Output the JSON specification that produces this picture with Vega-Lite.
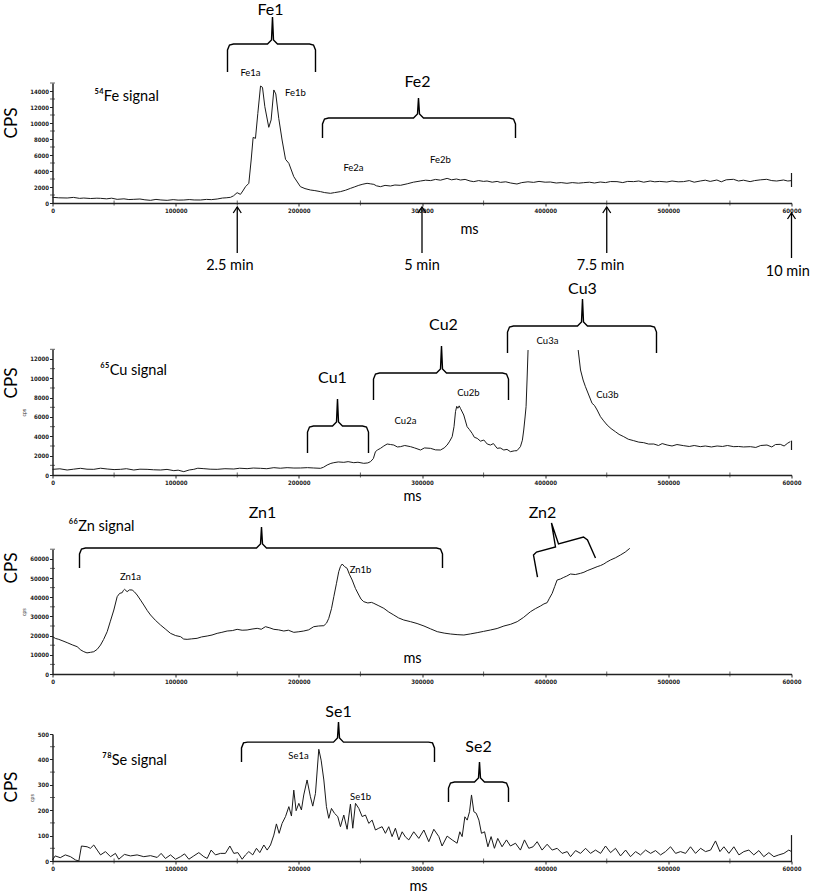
{
"$schema": "https://vega.github.io/schema/vega-lite/v6.json",
"padding": {"left": 2.5, "top": 0, "right": 0, "bottom": 0},
"spacing": 0,
"bounds": "flush",
"background": "white",
"config": {
  "view": {"stroke": null},
  "axis": {"domainColor": "#222", "domainWidth": 1.5, "tickColor": "#222", "tickSize": 3, "tickWidth": 1, "labelFont": "Liberation Sans Narrow, DejaVu Sans Condensed, sans-serif", "labelFontSize": 6, "labelFontWeight": "bold", "labelColor": "#222", "grid": false, "labelPadding": 1, "titleFont": "Liberation Sans Narrow, sans-serif", "titleFontSize": 5, "titleFontWeight": "normal", "titleColor": "#333", "titlePadding": 3, "labelFlush": false, "labelOverlap": false, "labelBound": false, "tickCount": 60},
  "tick": {"color": "#222", "thickness": 1, "size": 5}
},
"datasets": {
"fe": [
{"ms":0,"cps":710},{"ms":5000,"cps":650},{"ms":11900,"cps":625},{"ms":17000,"cps":700},{"ms":22000,"cps":580},{"ms":25400,"cps":620},{"ms":31000,"cps":560},{"ms":36000,"cps":600},{"ms":39000,"cps":583},{"ms":44000,"cps":520},{"ms":48000,"cps":600},{"ms":52500,"cps":458},{"ms":58000,"cps":520},{"ms":62000,"cps":430},{"ms":66000,"cps":458},{"ms":71000,"cps":500},{"ms":75000,"cps":400},{"ms":79600,"cps":333},{"ms":84000,"cps":450},{"ms":88000,"cps":380},{"ms":93100,"cps":333},{"ms":98000,"cps":420},{"ms":102000,"cps":360},{"ms":106600,"cps":375},{"ms":111000,"cps":430},{"ms":115000,"cps":380},{"ms":120100,"cps":375},{"ms":125000,"cps":450},{"ms":129000,"cps":420},{"ms":133700,"cps":500},{"ms":138000,"cps":620},{"ms":141000,"cps":650},{"ms":144500,"cps":708},{"ms":147000,"cps":900},{"ms":149900,"cps":1290},{"ms":152600,"cps":1080},{"ms":154500,"cps":1500},{"ms":156700,"cps":2040},{"ms":159400,"cps":2460},{"ms":161300,"cps":5375},{"ms":162900,"cps":8200},{"ms":164800,"cps":8080},{"ms":166700,"cps":11200},{"ms":168900,"cps":14620},{"ms":170500,"cps":14460},{"ms":172400,"cps":12040},{"ms":175600,"cps":9460},{"ms":177500,"cps":10380},{"ms":179700,"cps":14130},{"ms":181300,"cps":13630},{"ms":183700,"cps":10580},{"ms":186400,"cps":7875},{"ms":189200,"cps":5460},{"ms":191900,"cps":4960},{"ms":195900,"cps":3290},{"ms":201300,"cps":2040},{"ms":205000,"cps":1800},{"ms":209400,"cps":1625},{"ms":213000,"cps":1550},{"ms":217600,"cps":1420},{"ms":221000,"cps":1300},{"ms":225700,"cps":1210},{"ms":229000,"cps":1300},{"ms":233800,"cps":1420},{"ms":238000,"cps":1600},{"ms":241900,"cps":1830},{"ms":245000,"cps":2000},{"ms":248700,"cps":2210},{"ms":252000,"cps":2350},{"ms":255400,"cps":2460},{"ms":258000,"cps":2400},{"ms":260900,"cps":2330},{"ms":263000,"cps":2150},{"ms":266300,"cps":2040},{"ms":270000,"cps":2200},{"ms":274400,"cps":2125},{"ms":278000,"cps":2250},
{"ms":282500,"cps":2210},{"ms":288000,"cps":2400},{"ms":293000,"cps":2600},{"ms":298800,"cps":2750},{"ms":303000,"cps":2850},{"ms":307000,"cps":2800},{"ms":311000,"cps":2950},{"ms":315000,"cps":2850},{"ms":320400,"cps":3080},{"ms":324000,"cps":2900},{"ms":328000,"cps":3000},{"ms":331200,"cps":2875},{"ms":335000,"cps":2950},{"ms":339000,"cps":2750},{"ms":342000,"cps":2670},{"ms":346000,"cps":2800},{"ms":350000,"cps":2700},{"ms":352800,"cps":2750},{"ms":357000,"cps":2600},{"ms":361000,"cps":2700},{"ms":363600,"cps":2580},{"ms":368000,"cps":2650},{"ms":372000,"cps":2500},{"ms":377100,"cps":2375},{"ms":381000,"cps":2550},{"ms":386000,"cps":2650},{"ms":390600,"cps":2580},{"ms":395000,"cps":2700},{"ms":400000,"cps":2600},{"ms":404200,"cps":2625},{"ms":409000,"cps":2500},{"ms":413000,"cps":2550},{"ms":417700,"cps":2460},{"ms":422000,"cps":2550},{"ms":427000,"cps":2480},{"ms":431200,"cps":2540},{"ms":436000,"cps":2600},{"ms":440000,"cps":2500},{"ms":444700,"cps":2625},{"ms":449000,"cps":2550},{"ms":453000,"cps":2680},{"ms":458300,"cps":2670},{"ms":463000,"cps":2550},{"ms":467000,"cps":2700},{"ms":471800,"cps":2670},{"ms":476000,"cps":2750},{"ms":480000,"cps":2600},{"ms":485300,"cps":2750},{"ms":489000,"cps":2650},{"ms":493000,"cps":2700},{"ms":498800,"cps":2625},{"ms":503000,"cps":2750},{"ms":508000,"cps":2650},{"ms":512300,"cps":2670},{"ms":517000,"cps":2800},{"ms":521000,"cps":2600},{"ms":525900,"cps":2750},{"ms":530000,"cps":2850},{"ms":534000,"cps":2700},{"ms":539400,"cps":2875},{"ms":543000,"cps":2650},{"ms":547000,"cps":2900},{"ms":552900,"cps":2960},{"ms":557000,"cps":2750},{"ms":561000,"cps":2850},{"ms":566400,"cps":2670},{"ms":570000,"cps":2800},{"ms":575000,"cps":2900},{"ms":579900,"cps":2960},{"ms":584000,"cps":2800},{"ms":588000,"cps":2750},{"ms":593500,"cps":2875},{"ms":597000,"cps":2750},{"ms":600000,"cps":2800}
],
"cu": [
{"seg":1,"ms":0,"cps":586},{"seg":1,"ms":6000,"cps":640},{"seg":1,"ms":11900,"cps":517},{"seg":1,"ms":17000,"cps":600},{"seg":1,"ms":22700,"cps":690},{"seg":1,"ms":28000,"cps":600},{"seg":1,"ms":33500,"cps":586},{"seg":1,"ms":39000,"cps":700},{"seg":1,"ms":44400,"cps":620},{"seg":1,"ms":50000,"cps":560},{"seg":1,"ms":55200,"cps":586},{"seg":1,"ms":60000,"cps":650},{"seg":1,"ms":66000,"cps":517},{"seg":1,"ms":71000,"cps":600},{"seg":1,"ms":76800,"cps":586},{"seg":1,"ms":82000,"cps":540},{"seg":1,"ms":87700,"cps":517},{"seg":1,"ms":93000,"cps":580},{"seg":1,"ms":98500,"cps":448},{"seg":1,"ms":102000,"cps":500},{"seg":1,"ms":106600,"cps":345},{"seg":1,"ms":111000,"cps":520},{"seg":1,"ms":114700,"cps":586},{"seg":1,"ms":118000,"cps":700},{"seg":1,"ms":122900,"cps":655},{"seg":1,"ms":128000,"cps":600},{"seg":1,"ms":133700,"cps":586},{"seg":1,"ms":140000,"cps":650},{"seg":1,"ms":147200,"cps":620},{"seg":1,"ms":152000,"cps":700},{"seg":1,"ms":158000,"cps":655},{"seg":1,"ms":163000,"cps":720},{"seg":1,"ms":168900,"cps":690},{"seg":1,"ms":174000,"cps":650},{"seg":1,"ms":179700,"cps":758},{"seg":1,"ms":185000,"cps":700},{"seg":1,"ms":190500,"cps":758},{"seg":1,"ms":196000,"cps":720},{"seg":1,"ms":201300,"cps":724},{"seg":1,"ms":207000,"cps":760},{"seg":1,"ms":212100,"cps":724},{"seg":1,"ms":217600,"cps":690},{"seg":1,"ms":220000,"cps":800},{"seg":1,"ms":223000,"cps":1034},{"seg":1,"ms":226000,"cps":1200},{"seg":1,"ms":228400,"cps":1275},{"seg":1,"ms":232000,"cps":1350},{"seg":1,"ms":236500,"cps":1310},{"seg":1,"ms":240000,"cps":1380},{"seg":1,"ms":244600,"cps":1275},{"seg":1,"ms":248000,"cps":1320},{"seg":1,"ms":252700,"cps":1206},{"seg":1,"ms":256000,"cps":1250},{"seg":1,"ms":258200,"cps":1380},{"seg":1,"ms":260500,"cps":1700},{"seg":1,"ms":262200,"cps":2413},{"seg":1,"ms":264000,"cps":2600},{"seg":1,"ms":266300,"cps":2758},{"seg":1,"ms":269000,"cps":3000},{"seg":1,"ms":271700,"cps":3206},{"seg":1,"ms":274500,"cps":3150},{"seg":1,"ms":277100,"cps":3100},{"seg":1,"ms":280000,"cps":2900},{"seg":1,"ms":282500,"cps":2930},{"seg":1,"ms":286000,"cps":3050},{"seg":1,"ms":290700,"cps":2930},{"seg":1,"ms":294000,"cps":2800},{"seg":1,"ms":298800,"cps":2585},{"seg":1,"ms":302000,"cps":2800},{"seg":1,"ms":306900,"cps":2758},{"seg":1,"ms":311000,"cps":2600},{"seg":1,"ms":315000,"cps":2585},{"seg":1,"ms":318000,"cps":2800},{"seg":1,"ms":320400,"cps":3100},{"seg":1,"ms":322500,"cps":3500},{"seg":1,"ms":324500,"cps":3964},{"seg":1,"ms":326000,"cps":5000},{"seg":1,"ms":327200,"cps":6550},{"seg":1,"ms":328200,"cps":7100},{"seg":1,"ms":329100,"cps":6900},{"seg":1,"ms":330200,"cps":7150},{"seg":1,"ms":331200,"cps":6894},{"seg":1,"ms":333900,"cps":6205},{"seg":1,"ms":336600,"cps":4998},{"seg":1,"ms":338500,"cps":4700},{"seg":1,"ms":340700,"cps":4309},{"seg":1,"ms":342500,"cps":3900},{"seg":1,"ms":344800,"cps":3792},{"seg":1,"ms":347500,"cps":3500},{"seg":1,"ms":350200,"cps":3619},{"seg":1,"ms":353000,"cps":3200},{"seg":1,"ms":355600,"cps":3100},{"seg":1,"ms":358000,"cps":3250},{"seg":1,"ms":361000,"cps":2758},{"seg":1,"ms":363500,"cps":2800},{"seg":1,"ms":366400,"cps":2585},{"seg":1,"ms":369000,"cps":2650},{"seg":1,"ms":371800,"cps":2413},{"seg":1,"ms":375000,"cps":2500},{"seg":1,"ms":377100,"cps":2516},{"seg":1,"ms":379900,"cps":2930},{"seg":1,"ms":381500,"cps":3600},{"seg":1,"ms":382600,"cps":4653},{"seg":1,"ms":383700,"cps":6000},{"seg":1,"ms":384500,"cps":7066},{"seg":1,"ms":385300,"cps":9824},{"seg":1,"ms":386100,"cps":12926},
{"seg":2,"ms":426800,"cps":12926},{"seg":2,"ms":428700,"cps":10858},{"seg":2,"ms":430800,"cps":9824},{"seg":2,"ms":432700,"cps":9135},{"seg":2,"ms":435400,"cps":8273},{"seg":2,"ms":438100,"cps":7411},{"seg":2,"ms":440000,"cps":7200},{"seg":2,"ms":442200,"cps":6722},{"seg":2,"ms":444900,"cps":6032},{"seg":2,"ms":447500,"cps":5600},{"seg":2,"ms":450300,"cps":5170},{"seg":2,"ms":453500,"cps":4800},{"seg":2,"ms":457000,"cps":4481},{"seg":2,"ms":460000,"cps":4200},{"seg":2,"ms":463800,"cps":3964},{"seg":2,"ms":467500,"cps":3700},{"seg":2,"ms":471900,"cps":3550},{"seg":2,"ms":476000,"cps":3400},{"seg":2,"ms":480000,"cps":3344},{"seg":2,"ms":484000,"cps":3200},{"seg":2,"ms":488200,"cps":3206},{"seg":2,"ms":492000,"cps":3050},{"seg":2,"ms":495000,"cps":3250},{"seg":2,"ms":499000,"cps":3102},{"seg":2,"ms":503000,"cps":3000},{"seg":2,"ms":507000,"cps":3150},{"seg":2,"ms":512500,"cps":3033},{"seg":2,"ms":517000,"cps":2950},{"seg":2,"ms":521000,"cps":3050},{"seg":2,"ms":526000,"cps":2930},{"seg":2,"ms":530000,"cps":3000},{"seg":2,"ms":535000,"cps":2900},{"seg":2,"ms":539600,"cps":3000},{"seg":2,"ms":544000,"cps":2950},{"seg":2,"ms":548000,"cps":3050},{"seg":2,"ms":553100,"cps":2930},{"seg":2,"ms":557000,"cps":2950},{"seg":2,"ms":561000,"cps":2900},{"seg":2,"ms":566600,"cps":2930},{"seg":2,"ms":571000,"cps":2850},{"seg":2,"ms":575000,"cps":3050},{"seg":2,"ms":580100,"cps":3100},{"seg":2,"ms":584000,"cps":2900},{"seg":2,"ms":587000,"cps":3150},{"seg":2,"ms":590900,"cps":3171},{"seg":2,"ms":594000,"cps":3000},{"seg":2,"ms":597000,"cps":3300},{"seg":2,"ms":599000,"cps":3447}
],
"zn": [
{"ms":0,"cps":19440},{"ms":2500,"cps":18500},{"ms":5100,"cps":18050},{"ms":8500,"cps":17200},{"ms":11900,"cps":16320},{"ms":16000,"cps":15200},{"ms":20000,"cps":14240},{"ms":23000,"cps":12500},{"ms":25400,"cps":11630},{"ms":28000,"cps":11000},{"ms":30800,"cps":11280},{"ms":33500,"cps":11600},{"ms":36300,"cps":12850},{"ms":39000,"cps":15100},{"ms":41500,"cps":18000},{"ms":44400,"cps":22050},{"ms":47000,"cps":27500},{"ms":49800,"cps":33330},{"ms":52500,"cps":40270},{"ms":54500,"cps":42000},{"ms":56600,"cps":42360},{"ms":57500,"cps":43500},{"ms":58500,"cps":44100},{"ms":60600,"cps":42880},{"ms":62500,"cps":43800},{"ms":64700,"cps":43750},{"ms":66500,"cps":42800},{"ms":68700,"cps":41140},{"ms":71500,"cps":38500},{"ms":74100,"cps":35940},{"ms":77000,"cps":33000},{"ms":79600,"cps":30730},{"ms":83500,"cps":28000},{"ms":87700,"cps":25520},{"ms":91500,"cps":23500},{"ms":95800,"cps":21180},{"ms":100000,"cps":20000},{"ms":104000,"cps":19440},{"ms":106500,"cps":18200},{"ms":109300,"cps":18050},{"ms":113000,"cps":18300},{"ms":117400,"cps":18580},{"ms":121000,"cps":19300},{"ms":125600,"cps":19790},{"ms":129500,"cps":20300},{"ms":133700,"cps":21180},{"ms":137500,"cps":21700},{"ms":141800,"cps":22390},{"ms":146000,"cps":22600},{"ms":149900,"cps":23260},{"ms":154000,"cps":22800},{"ms":158000,"cps":22920},{"ms":162000,"cps":23400},{"ms":166200,"cps":23780},{"ms":169500,"cps":23300},{"ms":172900,"cps":24650},{"ms":176500,"cps":24000},{"ms":179700,"cps":23260},{"ms":183500,"cps":23000},{"ms":187800,"cps":22390},{"ms":191500,"cps":22800},{"ms":195900,"cps":21700},{"ms":200000,"cps":22000},{"ms":204000,"cps":22390},{"ms":208000,"cps":23000},{"ms":212100,"cps":24650},{"ms":216000,"cps":25000},{"ms":220300,"cps":25170},{"ms":222500,"cps":26500},{"ms":224300,"cps":28990},{"ms":226500,"cps":34000},{"ms":228400,"cps":40270},{"ms":230500,"cps":47000},{"ms":232400,"cps":53300},{"ms":233800,"cps":56000},{"ms":235200,"cps":57290},{"ms":237000,"cps":56000},{"ms":239200,"cps":55030},{"ms":241000,"cps":52000},{"ms":243300,"cps":48950},{"ms":246000,"cps":44500},{"ms":248700,"cps":41140},{"ms":250500,"cps":39000},{"ms":252700,"cps":37670},{"ms":256000,"cps":37000},{"ms":259000,"cps":37300},{"ms":260900,"cps":36800},{"ms":265000,"cps":35500},{"ms":269000,"cps":34200},{"ms":273000,"cps":32300},{"ms":277100,"cps":30730},{"ms":281000,"cps":29200},{"ms":285200,"cps":28120},{"ms":290700,"cps":27260},{"ms":296000,"cps":26300},{"ms":301600,"cps":25000},{"ms":307000,"cps":23500},{"ms":312400,"cps":22050},{"ms":318000,"cps":21300},{"ms":323200,"cps":20830},{"ms":328500,"cps":20500},{"ms":334000,"cps":20310},{"ms":339500,"cps":20900},{"ms":344800,"cps":21530},{"ms":350000,"cps":22200},{"ms":355600,"cps":22920},{"ms":361000,"cps":23700},{"ms":366500,"cps":25000},{"ms":372000,"cps":25900},{"ms":377300,"cps":27260},{"ms":382500,"cps":29500},{"ms":388100,"cps":32460},{"ms":392000,"cps":34000},{"ms":396200,"cps":35410},{"ms":399000,"cps":36500},{"ms":401600,"cps":37150},{"ms":403500,"cps":39500},{"ms":405700,"cps":42010},{"ms":407700,"cps":45500},{"ms":409700,"cps":48950},{"ms":412500,"cps":49500},{"ms":415100,"cps":50340},{"ms":417500,"cps":51000},{"ms":420500,"cps":52080},{"ms":424500,"cps":51800},{"ms":428700,"cps":52430},{"ms":431500,"cps":53000},{"ms":434100,"cps":53820},{"ms":438000,"cps":54800},{"ms":442200,"cps":55900},{"ms":445000,"cps":56500},{"ms":447600,"cps":57290},{"ms":450000,"cps":58300},{"ms":453000,"cps":59370},{"ms":457000,"cps":60500},{"ms":461100,"cps":61970},{"ms":465000,"cps":63500},{"ms":468700,"cps":65450}
],
"se": [
{"ms":0,"cps":4},{"ms":2200,"cps":20},{"ms":6300,"cps":13},{"ms":10400,"cps":24},{"ms":14600,"cps":17},{"ms":18700,"cps":4},{"ms":21400,"cps":0},{"ms":23500,"cps":59},{"ms":28100,"cps":56},{"ms":30800,"cps":50},{"ms":33500,"cps":63},{"ms":36300,"cps":43},{"ms":39000,"cps":24},{"ms":43000,"cps":37},{"ms":47100,"cps":17},{"ms":51100,"cps":30},{"ms":53800,"cps":7},{"ms":58400,"cps":26},{"ms":63300,"cps":20},{"ms":68700,"cps":24},{"ms":74100,"cps":17},{"ms":79600,"cps":21},{"ms":85000,"cps":14},{"ms":88200,"cps":30},{"ms":91700,"cps":10},{"ms":95800,"cps":24},{"ms":99900,"cps":7},{"ms":103900,"cps":17},{"ms":107200,"cps":28},{"ms":110700,"cps":7},{"ms":114700,"cps":20},{"ms":118800,"cps":33},{"ms":122900,"cps":17},{"ms":125600,"cps":10},{"ms":128800,"cps":43},{"ms":132300,"cps":24},{"ms":136400,"cps":30},{"ms":140400,"cps":30},{"ms":144000,"cps":59},{"ms":147200,"cps":30},{"ms":150500,"cps":33},{"ms":154000,"cps":7},{"ms":156700,"cps":24},{"ms":159400,"cps":37},{"ms":162600,"cps":24},{"ms":165600,"cps":50},{"ms":168300,"cps":33},{"ms":171600,"cps":63},{"ms":174300,"cps":43},{"ms":177000,"cps":63},{"ms":179700,"cps":102},{"ms":181800,"cps":146},{"ms":184000,"cps":109},{"ms":186400,"cps":148},{"ms":189200,"cps":175},{"ms":191900,"cps":214},{"ms":194000,"cps":177},{"ms":195900,"cps":279},{"ms":197800,"cps":198},{"ms":200000,"cps":227},{"ms":202100,"cps":201},{"ms":204000,"cps":260},{"ms":206700,"cps":319},{"ms":209400,"cps":253},{"ms":211300,"cps":216},{"ms":213500,"cps":266},{"ms":216200,"cps":440},{"ms":218100,"cps":397},{"ms":220300,"cps":319},{"ms":222400,"cps":214},{"ms":224300,"cps":168},{"ms":226500,"cps":207},{"ms":228900,"cps":188},{"ms":231600,"cps":175},{"ms":233800,"cps":135},{"ms":236500,"cps":181},{"ms":239200,"cps":125},{"ms":241900,"cps":224},{"ms":243800,"cps":129},{"ms":246000,"cps":227},{"ms":248700,"cps":207},{"ms":251400,"cps":175},{"ms":254100,"cps":181},{"ms":256800,"cps":148},{"ms":259500,"cps":161},{"ms":262200,"cps":122},{"ms":264900,"cps":129},{"ms":267600,"cps":135},{"ms":270300,"cps":109},{"ms":273000,"cps":135},{"ms":275700,"cps":96},{"ms":278400,"cps":129},{"ms":281200,"cps":83},{"ms":283900,"cps":115},{"ms":286500,"cps":95},{"ms":289300,"cps":83},{"ms":293300,"cps":115},{"ms":297400,"cps":89},{"ms":301500,"cps":122},{"ms":305500,"cps":76},{"ms":309600,"cps":125},{"ms":313700,"cps":96},{"ms":316300,"cps":59},{"ms":320400,"cps":98},{"ms":324500,"cps":83},{"ms":328500,"cps":70},{"ms":330700,"cps":115},{"ms":332600,"cps":96},{"ms":334800,"cps":174},{"ms":336700,"cps":161},{"ms":338600,"cps":194},{"ms":340200,"cps":260},{"ms":342100,"cps":194},{"ms":344000,"cps":188},{"ms":346200,"cps":161},{"ms":348300,"cps":109},{"ms":350800,"cps":115},{"ms":353500,"cps":56},{"ms":356100,"cps":96},{"ms":358800,"cps":50},{"ms":361500,"cps":89},{"ms":365000,"cps":56},{"ms":368600,"cps":83},{"ms":371800,"cps":59},{"ms":375900,"cps":70},{"ms":379900,"cps":43},{"ms":383200,"cps":83},{"ms":386700,"cps":50},{"ms":390200,"cps":56},{"ms":393500,"cps":76},{"ms":397500,"cps":43},{"ms":401600,"cps":66},{"ms":405700,"cps":43},{"ms":409700,"cps":50},{"ms":413800,"cps":30},{"ms":417900,"cps":37},{"ms":420600,"cps":17},{"ms":424700,"cps":41},{"ms":428700,"cps":30},{"ms":432800,"cps":50},{"ms":436800,"cps":30},{"ms":440900,"cps":43},{"ms":445000,"cps":30},{"ms":449000,"cps":59},{"ms":453100,"cps":33},{"ms":457100,"cps":50},{"ms":461200,"cps":20},{"ms":465300,"cps":43},{"ms":469300,"cps":17},{"ms":473400,"cps":37},{"ms":477400,"cps":24},{"ms":481500,"cps":43},{"ms":485600,"cps":30},{"ms":489600,"cps":41},{"ms":493700,"cps":24},{"ms":497700,"cps":37},{"ms":501800,"cps":56},{"ms":505900,"cps":30},{"ms":509900,"cps":37},{"ms":514000,"cps":30},{"ms":518000,"cps":56},{"ms":522100,"cps":30},{"ms":526200,"cps":50},{"ms":530200,"cps":37},{"ms":534300,"cps":43},{"ms":538300,"cps":79},{"ms":541900,"cps":37},{"ms":545100,"cps":56},{"ms":549200,"cps":30},{"ms":553200,"cps":56},{"ms":557300,"cps":24},{"ms":561300,"cps":37},{"ms":565400,"cps":43},{"ms":569400,"cps":24},{"ms":573500,"cps":41},{"ms":577500,"cps":17},{"ms":581600,"cps":33},{"ms":585700,"cps":17},{"ms":589700,"cps":24},{"ms":593800,"cps":30},{"ms":597800,"cps":43},{"ms":600000,"cps":37}
],
"braces": [
{"b":"Fe1","o":1,"ms":142083,"cps":16375},{"b":"Fe1","o":2,"ms":142083,"cps":19125},{"b":"Fe1","o":3,"ms":143706,"cps":19750},{"b":"Fe1","o":4,"ms":146954,"cps":19875},{"b":"Fe1","o":5,"ms":174559,"cps":19875},{"b":"Fe1","o":6,"ms":177806,"cps":20375},{"b":"Fe1","o":7,"ms":178618,"cps":23250},{"b":"Fe1","o":8,"ms":179430,"cps":20375},{"b":"Fe1","o":9,"ms":182678,"cps":19875},{"b":"Fe1","o":10,"ms":208658,"cps":19875},{"b":"Fe1","o":11,"ms":211906,"cps":19750},{"b":"Fe1","o":12,"ms":213530,"cps":19125},{"b":"Fe1","o":13,"ms":213530,"cps":16375},
{"b":"Fe2","o":1,"ms":219213,"cps":8125},{"b":"Fe2","o":2,"ms":219213,"cps":9875},{"b":"Fe2","o":3,"ms":220837,"cps":10500},{"b":"Fe2","o":4,"ms":224084,"cps":10625},{"b":"Fe2","o":5,"ms":293096,"cps":10625},{"b":"Fe2","o":6,"ms":296344,"cps":11125},{"b":"Fe2","o":7,"ms":297155,"cps":13125},{"b":"Fe2","o":8,"ms":297967,"cps":11125},{"b":"Fe2","o":9,"ms":301215,"cps":10625},{"b":"Fe2","o":10,"ms":371038,"cps":10625},{"b":"Fe2","o":11,"ms":374286,"cps":10500},{"b":"Fe2","o":12,"ms":375910,"cps":9875},{"b":"Fe2","o":13,"ms":375910,"cps":8125},
{"b":"Cu1","o":1,"ms":207035,"cps":2275},{"b":"Cu1","o":2,"ms":207035,"cps":4446},{"b":"Cu1","o":3,"ms":208658,"cps":4963},{"b":"Cu1","o":4,"ms":211906,"cps":5067},{"b":"Cu1","o":5,"ms":227332,"cps":5067},{"b":"Cu1","o":6,"ms":230580,"cps":5480},{"b":"Cu1","o":7,"ms":231392,"cps":7858},{"b":"Cu1","o":8,"ms":232203,"cps":5480},{"b":"Cu1","o":9,"ms":235451,"cps":5067},{"b":"Cu1","o":10,"ms":251689,"cps":5067},{"b":"Cu1","o":11,"ms":254937,"cps":4963},{"b":"Cu1","o":12,"ms":256560,"cps":4446},{"b":"Cu1","o":13,"ms":256560,"cps":2275},
{"b":"Cu2","o":1,"ms":260620,"cps":7755},{"b":"Cu2","o":2,"ms":260620,"cps":9926},{"b":"Cu2","o":3,"ms":262244,"cps":10443},{"b":"Cu2","o":4,"ms":265491,"cps":10547},{"b":"Cu2","o":5,"ms":311770,"cps":10547},{"b":"Cu2","o":6,"ms":315017,"cps":10960},{"b":"Cu2","o":7,"ms":315829,"cps":13339},{"b":"Cu2","o":8,"ms":316641,"cps":10960},{"b":"Cu2","o":9,"ms":319889,"cps":10547},{"b":"Cu2","o":10,"ms":365355,"cps":10547},{"b":"Cu2","o":11,"ms":368603,"cps":10443},{"b":"Cu2","o":12,"ms":370226,"cps":9926},{"b":"Cu2","o":13,"ms":370226,"cps":7755},
{"b":"Cu3","o":1,"ms":369415,"cps":12615},{"b":"Cu3","o":2,"ms":369415,"cps":14786},{"b":"Cu3","o":3,"ms":371038,"cps":15303},{"b":"Cu3","o":4,"ms":374286,"cps":15407},{"b":"Cu3","o":5,"ms":426248,"cps":15407},{"b":"Cu3","o":6,"ms":429495,"cps":15820},{"b":"Cu3","o":7,"ms":430307,"cps":18198},{"b":"Cu3","o":8,"ms":431119,"cps":15820},{"b":"Cu3","o":9,"ms":434367,"cps":15407},{"b":"Cu3","o":10,"ms":485516,"cps":15407},{"b":"Cu3","o":11,"ms":488764,"cps":15303},{"b":"Cu3","o":12,"ms":490388,"cps":14786},{"b":"Cu3","o":13,"ms":490388,"cps":12615},
{"b":"Zn1","o":1,"ms":21921,"cps":55205},{"b":"Zn1","o":2,"ms":21921,"cps":62496},{"b":"Zn1","o":3,"ms":23545,"cps":65100},{"b":"Zn1","o":4,"ms":26793,"cps":65621},{"b":"Zn1","o":5,"ms":165628,"cps":65621},{"b":"Zn1","o":6,"ms":168875,"cps":67704},{"b":"Zn1","o":7,"ms":169687,"cps":76558},{"b":"Zn1","o":8,"ms":170499,"cps":67704},{"b":"Zn1","o":9,"ms":173747,"cps":65621},{"b":"Zn1","o":10,"ms":311770,"cps":65621},{"b":"Zn1","o":11,"ms":315017,"cps":65100},{"b":"Zn1","o":12,"ms":316641,"cps":62496},{"b":"Zn1","o":13,"ms":316641,"cps":55205},
{"b":"Zn2","o":1,"ms":393772,"cps":50518},{"b":"Zn2","o":2,"ms":390524,"cps":61975},{"b":"Zn2","o":3,"ms":392961,"cps":63538},{"b":"Zn2","o":4,"ms":408386,"cps":66142},{"b":"Zn2","o":5,"ms":405138,"cps":78641},{"b":"Zn2","o":6,"ms":410821,"cps":67704},{"b":"Zn2","o":7,"ms":431119,"cps":71350},{"b":"Zn2","o":8,"ms":434367,"cps":69787},{"b":"Zn2","o":9,"ms":440862,"cps":60413},
{"b":"Se1","o":1,"ms":153449,"cps":390},{"b":"Se1","o":2,"ms":153449,"cps":445},{"b":"Se1","o":3,"ms":155073,"cps":465},{"b":"Se1","o":4,"ms":158321,"cps":468},{"b":"Se1","o":5,"ms":228144,"cps":468},{"b":"Se1","o":6,"ms":231392,"cps":484},{"b":"Se1","o":7,"ms":232203,"cps":547},{"b":"Se1","o":8,"ms":233015,"cps":484},{"b":"Se1","o":9,"ms":236263,"cps":468},{"b":"Se1","o":10,"ms":305274,"cps":468},{"b":"Se1","o":11,"ms":308522,"cps":465},{"b":"Se1","o":12,"ms":310146,"cps":445},{"b":"Se1","o":13,"ms":310146,"cps":390},
{"b":"Se2","o":1,"ms":321512,"cps":232},{"b":"Se2","o":2,"ms":321512,"cps":287},{"b":"Se2","o":3,"ms":323136,"cps":307},{"b":"Se2","o":4,"ms":326384,"cps":311},{"b":"Se2","o":5,"ms":342622,"cps":311},{"b":"Se2","o":6,"ms":345869,"cps":327},{"b":"Se2","o":7,"ms":346681,"cps":390},{"b":"Se2","o":8,"ms":347493,"cps":327},{"b":"Se2","o":9,"ms":350741,"cps":311},{"b":"Se2","o":10,"ms":365355,"cps":311},{"b":"Se2","o":11,"ms":368603,"cps":307},{"b":"Se2","o":12,"ms":370226,"cps":287},{"b":"Se2","o":13,"ms":370226,"cps":232}
],
"notes": [
{"panel":"fe","kind":"g","label":"Fe1","ms":176994,"cps":24125},{"panel":"fe","kind":"g","label":"Fe2","ms":296344,"cps":15125},{"panel":"fe","kind":"p","label":"Fe1a","ms":160756,"cps":16250},{"panel":"fe","kind":"p","label":"Fe1b","ms":197292,"cps":13750},{"panel":"fe","kind":"p","label":"Fe2a","ms":244382,"cps":4375},{"panel":"fe","kind":"p","label":"Fe2b","ms":315017,"cps":5375},{"panel":"fe","kind":"s","label":"⁵⁴Fe signal","ms":60081,"cps":13250},{"panel":"fe","kind":"m","label":"ms","ms":338562,"cps":-3375},{"panel":"fe","kind":"c","label":"CPS","ms":-33288,"cps":10000},{"panel":"fe","kind":"t","label":"2.5 min","ms":144000,"cps":-7875},{"panel":"fe","kind":"t","label":"5 min","ms":300000,"cps":-7875},{"panel":"fe","kind":"t","label":"7.5 min","ms":445000,"cps":-7875},{"panel":"fe","kind":"t","label":"10 min","ms":597000,"cps":-8625},
{"panel":"cu","kind":"s","label":"⁶⁵Cu signal","ms":65764,"cps":10754},{"panel":"cu","kind":"g","label":"Cu1","ms":227332,"cps":10030},{"panel":"cu","kind":"g","label":"Cu2","ms":317453,"cps":15510},{"panel":"cu","kind":"g","label":"Cu3","ms":430307,"cps":19232},{"panel":"cu","kind":"p","label":"Cu2a","ms":286601,"cps":5584},{"panel":"cu","kind":"p","label":"Cu2b","ms":337750,"cps":8479},{"panel":"cu","kind":"p","label":"Cu3a","ms":401891,"cps":13856},{"panel":"cu","kind":"p","label":"Cu3b","ms":450605,"cps":8272},{"panel":"cu","kind":"m","label":"ms","ms":292284,"cps":-2275},{"panel":"cu","kind":"c","label":"CPS","ms":-33288,"cps":9513},
{"panel":"zn","kind":"s","label":"⁶⁶Zn signal","ms":39783,"cps":76558},{"panel":"zn","kind":"g","label":"Zn1","ms":170499,"cps":83849},{"panel":"zn","kind":"g","label":"Zn2","ms":397831,"cps":83849},{"panel":"zn","kind":"p","label":"Zn1a","ms":63328,"cps":50518},{"panel":"zn","kind":"p","label":"Zn1b","ms":250065,"cps":54163},{"panel":"zn","kind":"m","label":"ms","ms":292284,"cps":7812},{"panel":"zn","kind":"c","label":"CPS","ms":-33288,"cps":55205},
{"panel":"se","kind":"s","label":"⁷⁸Se signal","ms":66576,"cps":394},{"panel":"se","kind":"g","label":"Se1","ms":232203,"cps":587},{"panel":"se","kind":"g","label":"Se2","ms":345869,"cps":449},{"panel":"se","kind":"p","label":"Se1a","ms":199727,"cps":413},{"panel":"se","kind":"p","label":"Se1b","ms":250065,"cps":252},{"panel":"se","kind":"m","label":"ms","ms":297155,"cps":-102},{"panel":"se","kind":"c","label":"CPS","ms":-33288,"cps":291}
],
"arrows": [
{"ms":150000,"cps":-500,"cps2":-6250},{"ms":300000,"cps":-500,"cps2":-6250},{"ms":450000,"cps":-500,"cps2":-6250},{"ms":600000,"cps":-1250,"cps2":-6875}
],
"ends": [
{"panel":"fe","ms":600000,"cps":2000,"cps2":3750},{"panel":"cu","ms":600000,"cps":2585,"cps2":3550},{"panel":"se","ms":600000,"cps":0,"cps2":102}
],
"yminor": [
{"panel":"fe","cps":1000},{"panel":"fe","cps":3000},{"panel":"fe","cps":5000},{"panel":"fe","cps":7000},{"panel":"fe","cps":9000},{"panel":"fe","cps":11000},{"panel":"fe","cps":13000},{"panel":"fe","cps":15000},
{"panel":"cu","cps":1000},{"panel":"cu","cps":3000},{"panel":"cu","cps":5000},{"panel":"cu","cps":7000},{"panel":"cu","cps":9000},{"panel":"cu","cps":11000},{"panel":"cu","cps":13000},
{"panel":"zn","cps":5000},{"panel":"zn","cps":15000},{"panel":"zn","cps":25000},{"panel":"zn","cps":35000},{"panel":"zn","cps":45000},{"panel":"zn","cps":55000},{"panel":"zn","cps":65000},
{"panel":"se","cps":50},{"panel":"se","cps":150},{"panel":"se","cps":250},{"panel":"se","cps":350},{"panel":"se","cps":450}
],
"xminor": [
{"ms":50000},{"ms":150000},{"ms":250000},{"ms":350000},{"ms":450000},{"ms":550000}
]
},
"vconcat": [
{
 "width": 739, "height": 203,
 "layer": [
  {"data": {"name": "fe"}, "mark": {"type": "line", "color": "#1a1a1a", "strokeWidth": 1},
   "encoding": {
    "x": {"field": "ms", "type": "quantitative", "scale": {"domain": [0, 600000], "nice": false, "zero": false},
      "axis": {"title": null, "format": "d", "tickCount": 60, "values": [0,100000,200000,300000,400000,500000,600000], "labelExpr": "datum.value === 600000 ? '60000' : format(datum.value, 'd')"}},
    "y": {"field": "cps", "type": "quantitative", "scale": {"domain": [0, 15000], "range": [203, 83], "nice": false},
      "axis": {"title": null, "format": "d", "tickCount": 60, "values": [0,2000,4000,6000,8000,10000,12000,14000]}}
   }},
  {"data": {"name": "yminor"}, "transform": [{"filter": "datum.panel === 'fe'"}], "mark": {"type": "tick", "orient": "horizontal"},
   "encoding": {"x": {"datum": 0, "type": "quantitative"}, "y": {"field": "cps", "type": "quantitative"}}},
  {"data": {"name": "xminor"}, "mark": {"type": "tick", "orient": "vertical"},
   "encoding": {"x": {"field": "ms", "type": "quantitative"}, "y": {"datum": 0, "type": "quantitative"}}},
  {"data": {"name": "braces"}, "transform": [{"filter": "substring(datum.b, 0, 2) === 'Fe'"}], "mark": {"type": "line", "color": "#000", "strokeWidth": 1.4},
   "encoding": {"x": {"field": "ms", "type": "quantitative"}, "y": {"field": "cps", "type": "quantitative"}, "detail": {"field": "b"}, "order": {"field": "o"}}},
  {"data": {"name": "arrows"}, "mark": {"type": "rule", "color": "#000", "strokeWidth": 1.3},
   "encoding": {"x": {"field": "ms", "type": "quantitative"}, "y": {"field": "cps", "type": "quantitative"}, "y2": {"field": "cps2"}}},
  {"data": {"name": "arrows"}, "mark": {"type": "point", "shape": "M-1,1.5L0,0L1,1.5", "filled": false, "size": 64, "stroke": "#000", "strokeWidth": 1.3, "opacity": 1},
   "encoding": {"x": {"field": "ms", "type": "quantitative"}, "y": {"field": "cps", "type": "quantitative"}}},
  {"data": {"name": "ends"}, "transform": [{"filter": "datum.panel === 'fe'"}], "mark": {"type": "rule", "color": "#1a1a1a", "strokeWidth": 1.2},
   "encoding": {"x": {"field": "ms", "type": "quantitative"}, "y": {"field": "cps", "type": "quantitative"}, "y2": {"field": "cps2"}}},
  {"data": {"name": "notes"}, "transform": [{"filter": "datum.panel === 'fe'"}], "mark": {"type": "text", "font": "Lato", "baseline": "middle", "color": "#000"},
   "encoding": {"x": {"field": "ms", "type": "quantitative"}, "y": {"field": "cps", "type": "quantitative"}, "text": {"field": "label"},
    "size": {"condition": [{"test": "datum.kind === 'g'", "value": 16}, {"test": "datum.kind === 'p'", "value": 9.5}, {"test": "datum.kind === 'c'", "value": 17}], "value": 14.5},
    "angle": {"condition": {"test": "datum.kind === 'c'", "value": 270}, "value": 0}}}
 ]
},
{
 "width": 739, "height": 272,
 "layer": [
  {"data": {"name": "cu"}, "mark": {"type": "line", "color": "#1a1a1a", "strokeWidth": 1},
   "encoding": {
    "x": {"field": "ms", "type": "quantitative", "scale": {"domain": [0, 600000], "nice": false, "zero": false},
      "axis": {"title": null, "format": "d", "tickCount": 60, "values": [0,100000,200000,300000,400000,500000,600000], "labelExpr": "datum.value === 600000 ? '60000' : format(datum.value, 'd')"}},
    "y": {"field": "cps", "type": "quantitative", "scale": {"domain": [0, 13000], "range": [272, 146.3], "nice": false},
      "axis": {"title": "cps", "format": "d", "tickCount": 60, "values": [0,2000,4000,6000,8000,10000,12000]}},
    "detail": {"field": "seg"}
   }},
  {"data": {"name": "yminor"}, "transform": [{"filter": "datum.panel === 'cu'"}], "mark": {"type": "tick", "orient": "horizontal"},
   "encoding": {"x": {"datum": 0, "type": "quantitative"}, "y": {"field": "cps", "type": "quantitative"}}},
  {"data": {"name": "xminor"}, "mark": {"type": "tick", "orient": "vertical"},
   "encoding": {"x": {"field": "ms", "type": "quantitative"}, "y": {"datum": 0, "type": "quantitative"}}},
  {"data": {"name": "braces"}, "transform": [{"filter": "substring(datum.b, 0, 2) === 'Cu'"}], "mark": {"type": "line", "color": "#000", "strokeWidth": 1.4},
   "encoding": {"x": {"field": "ms", "type": "quantitative"}, "y": {"field": "cps", "type": "quantitative"}, "detail": {"field": "b"}, "order": {"field": "o"}}},
  {"data": {"name": "ends"}, "transform": [{"filter": "datum.panel === 'cu'"}], "mark": {"type": "rule", "color": "#1a1a1a", "strokeWidth": 1.2},
   "encoding": {"x": {"field": "ms", "type": "quantitative"}, "y": {"field": "cps", "type": "quantitative"}, "y2": {"field": "cps2"}}},
  {"data": {"name": "notes"}, "transform": [{"filter": "datum.panel === 'cu'"}], "mark": {"type": "text", "font": "Lato", "baseline": "middle", "color": "#000"},
   "encoding": {"x": {"field": "ms", "type": "quantitative"}, "y": {"field": "cps", "type": "quantitative"}, "text": {"field": "label"},
    "size": {"condition": [{"test": "datum.kind === 'g'", "value": 16}, {"test": "datum.kind === 'p'", "value": 9.5}, {"test": "datum.kind === 'c'", "value": 17}], "value": 14.5},
    "angle": {"condition": {"test": "datum.kind === 'c'", "value": 270}, "value": 0}}}
 ]
},
{
 "width": 739, "height": 199,
 "layer": [
  {"data": {"name": "zn"}, "mark": {"type": "line", "color": "#1a1a1a", "strokeWidth": 1},
   "encoding": {
    "x": {"field": "ms", "type": "quantitative", "scale": {"domain": [0, 600000], "nice": false, "zero": false},
      "axis": {"title": null, "format": "d", "tickCount": 60, "values": [0,100000,200000,300000,400000,500000,600000], "labelExpr": "datum.value === 600000 ? '60000' : format(datum.value, 'd')"}},
    "y": {"field": "cps", "type": "quantitative", "scale": {"domain": [0, 65000], "range": [199, 74.2], "nice": false},
      "axis": {"title": "cps", "format": "d", "tickCount": 60, "values": [0,10000,20000,30000,40000,50000,60000]}}
   }},
  {"data": {"name": "yminor"}, "transform": [{"filter": "datum.panel === 'zn'"}], "mark": {"type": "tick", "orient": "horizontal"},
   "encoding": {"x": {"datum": 0, "type": "quantitative"}, "y": {"field": "cps", "type": "quantitative"}}},
  {"data": {"name": "xminor"}, "mark": {"type": "tick", "orient": "vertical"},
   "encoding": {"x": {"field": "ms", "type": "quantitative"}, "y": {"datum": 0, "type": "quantitative"}}},
  {"data": {"name": "braces"}, "transform": [{"filter": "substring(datum.b, 0, 2) === 'Zn'"}], "mark": {"type": "line", "color": "#000", "strokeWidth": 1.4},
   "encoding": {"x": {"field": "ms", "type": "quantitative"}, "y": {"field": "cps", "type": "quantitative"}, "detail": {"field": "b"}, "order": {"field": "o"}}},
  {"data": {"name": "notes"}, "transform": [{"filter": "datum.panel === 'zn'"}], "mark": {"type": "text", "font": "Lato", "baseline": "middle", "color": "#000"},
   "encoding": {"x": {"field": "ms", "type": "quantitative"}, "y": {"field": "cps", "type": "quantitative"}, "text": {"field": "label"},
    "size": {"condition": [{"test": "datum.kind === 'g'", "value": 16}, {"test": "datum.kind === 'p'", "value": 9.5}, {"test": "datum.kind === 'c'", "value": 17}], "value": 14.5},
    "angle": {"condition": {"test": "datum.kind === 'c'", "value": 270}, "value": 0}}}
 ]
},
{
 "width": 739, "height": 187,
 "layer": [
  {"data": {"name": "se"}, "mark": {"type": "line", "color": "#1a1a1a", "strokeWidth": 1},
   "encoding": {
    "x": {"field": "ms", "type": "quantitative", "scale": {"domain": [0, 600000], "nice": false, "zero": false},
      "axis": {"title": null, "format": "d", "tickCount": 60, "values": [0,100000,200000,300000,400000,500000,600000], "labelExpr": "datum.value === 600000 ? '60000' : format(datum.value, 'd')"}},
    "y": {"field": "cps", "type": "quantitative", "scale": {"domain": [0, 500], "range": [187, 60], "nice": false},
      "axis": {"title": "cps", "format": "d", "tickCount": 60, "values": [0,100,200,300,400,500]}}
   }},
  {"data": {"name": "yminor"}, "transform": [{"filter": "datum.panel === 'se'"}], "mark": {"type": "tick", "orient": "horizontal"},
   "encoding": {"x": {"datum": 0, "type": "quantitative"}, "y": {"field": "cps", "type": "quantitative"}}},
  {"data": {"name": "xminor"}, "mark": {"type": "tick", "orient": "vertical"},
   "encoding": {"x": {"field": "ms", "type": "quantitative"}, "y": {"datum": 0, "type": "quantitative"}}},
  {"data": {"name": "braces"}, "transform": [{"filter": "substring(datum.b, 0, 2) === 'Se'"}], "mark": {"type": "line", "color": "#000", "strokeWidth": 1.4},
   "encoding": {"x": {"field": "ms", "type": "quantitative"}, "y": {"field": "cps", "type": "quantitative"}, "detail": {"field": "b"}, "order": {"field": "o"}}},
  {"data": {"name": "ends"}, "transform": [{"filter": "datum.panel === 'se'"}], "mark": {"type": "rule", "color": "#1a1a1a", "strokeWidth": 1.2},
   "encoding": {"x": {"field": "ms", "type": "quantitative"}, "y": {"field": "cps", "type": "quantitative"}, "y2": {"field": "cps2"}}},
  {"data": {"name": "notes"}, "transform": [{"filter": "datum.panel === 'se'"}], "mark": {"type": "text", "font": "Lato", "baseline": "middle", "color": "#000"},
   "encoding": {"x": {"field": "ms", "type": "quantitative"}, "y": {"field": "cps", "type": "quantitative"}, "text": {"field": "label"},
    "size": {"condition": [{"test": "datum.kind === 'g'", "value": 16}, {"test": "datum.kind === 'p'", "value": 9.5}, {"test": "datum.kind === 'c'", "value": 17}], "value": 14.5},
    "angle": {"condition": {"test": "datum.kind === 'c'", "value": 270}, "value": 0}}}
 ]
}
]
}
